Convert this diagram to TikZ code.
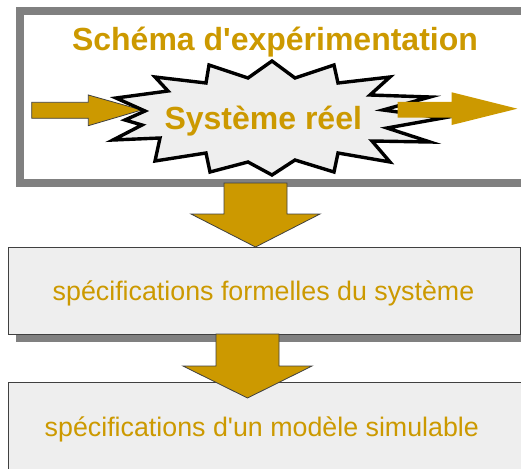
\documentclass[tikz,border=0pt]{standalone}
\usepackage{fontspec}
\setmainfont{Liberation Sans}
\definecolor{gold}{HTML}{CC9900}
\definecolor{panel}{HTML}{EEEEEE}
\definecolor{framegray}{HTML}{808080}
\definecolor{edgegray}{HTML}{404040}
\tikzset{
  blockarrow/.style={fill=gold, draw=edgegray, line width=0.8pt, line join=miter},
  plainarrow/.style={fill=gold, draw=none},
  burst/.style={fill=panel, draw=black, line width=3.4pt, line join=miter, miter limit=20},
  specbox/.style={rectangle, fill=panel, draw=edgegray, line width=1pt, inner sep=0pt},
  boxshadow/.style={fill=framegray, draw=none},
  bigtitle/.style={text=gold, font=\fontsize{32}{38}\selectfont\bfseries, inner sep=0pt},
  spectext/.style={text=gold, font=\fontsize{26.8}{32}\selectfont, inner sep=0pt}
}
\begin{document}
\begin{tikzpicture}[x=1pt,y=-1pt]
\useasboundingbox (0,0) rectangle (521,468);
\clip (0,0) rectangle (521,468);

% experiment frame
\draw[framegray, line width=8pt] (20,11) rectangle (540,183);
\coordinate (framebottom) at (255.5,183);

% input arrow (under the burst)
\coordinate (intip) at (141.7,110);
\path[blockarrow] (31.7,102.3) -- (88.3,102.3) -- (88.3,95) -- (intip)
  -- (88.3,125.7) -- (88.3,118.3) -- (31.7,118.3) -- cycle;

% the real system, as a burst
\path[burst] (272,61) -- (295,78) -- (334,65) -- (338,83) -- (390,77)
  -- (370,95) -- (430,97) -- (383,110) -- (443,118) -- (387,128)
  -- (430,142) -- (372,141) -- (390,162) -- (338,153) -- (334,172)
  -- (295,160) -- (272,175) -- (248,162) -- (210,172) -- (206,153)
  -- (155,161) -- (160,138) -- (113,140) -- (142,125) -- (125,120)
  -- (145,111) -- (116,98) -- (168,91) -- (155,77) -- (206,83)
  -- (209,65) -- (248,78) -- cycle;
\node[bigtitle, anchor=base] (system) at (263.3,129) {Système réel};

% output arrow (over the burst)
\coordinate (outtip) at (517.3,108.7);
\path[plainarrow] (397.7,101.8) -- (451.7,101.8) -- (451.7,92.3) -- (outtip)
  -- (451.7,125) -- (451.7,117.5) -- (397.7,117.5) -- cycle;

\node[bigtitle, anchor=base] (title) at (275,50.7) {Schéma d\textquotesingle expérimentation};

% formal specification box
\path[boxshadow] (16,255) rectangle (528,342);
\node[specbox, anchor=north west, minimum width=512pt, minimum height=87pt] (formal) at (8,247) {};
\node[spectext, anchor=base] (formaltext) at (263.5,300) {spécifications formelles du système};

% simulable model box
\path[boxshadow] (16,390) rectangle (532,480);
\node[specbox, anchor=north west, minimum width=516pt, minimum height=96pt] (model) at (8,382) {};
\node[spectext, anchor=base] (modeltext) at (261.8,436) {spécifications d\textquotesingle un modèle simulable};

% downward block arrows
\path[blockarrow] (224,183) -- (287,183) -- (287,214) -- (320,214) -- (formal.north -| framebottom)
  -- (191,214) -- (224,214) -- cycle;
\coordinate (secondtop) at (247.5,334);
\path[blockarrow] (216,334) -- (279,334) -- (279,366) -- (312,366) -- (247.5,398)
  -- (183,366) -- (216,366) -- cycle;
\end{tikzpicture}
\end{document}
